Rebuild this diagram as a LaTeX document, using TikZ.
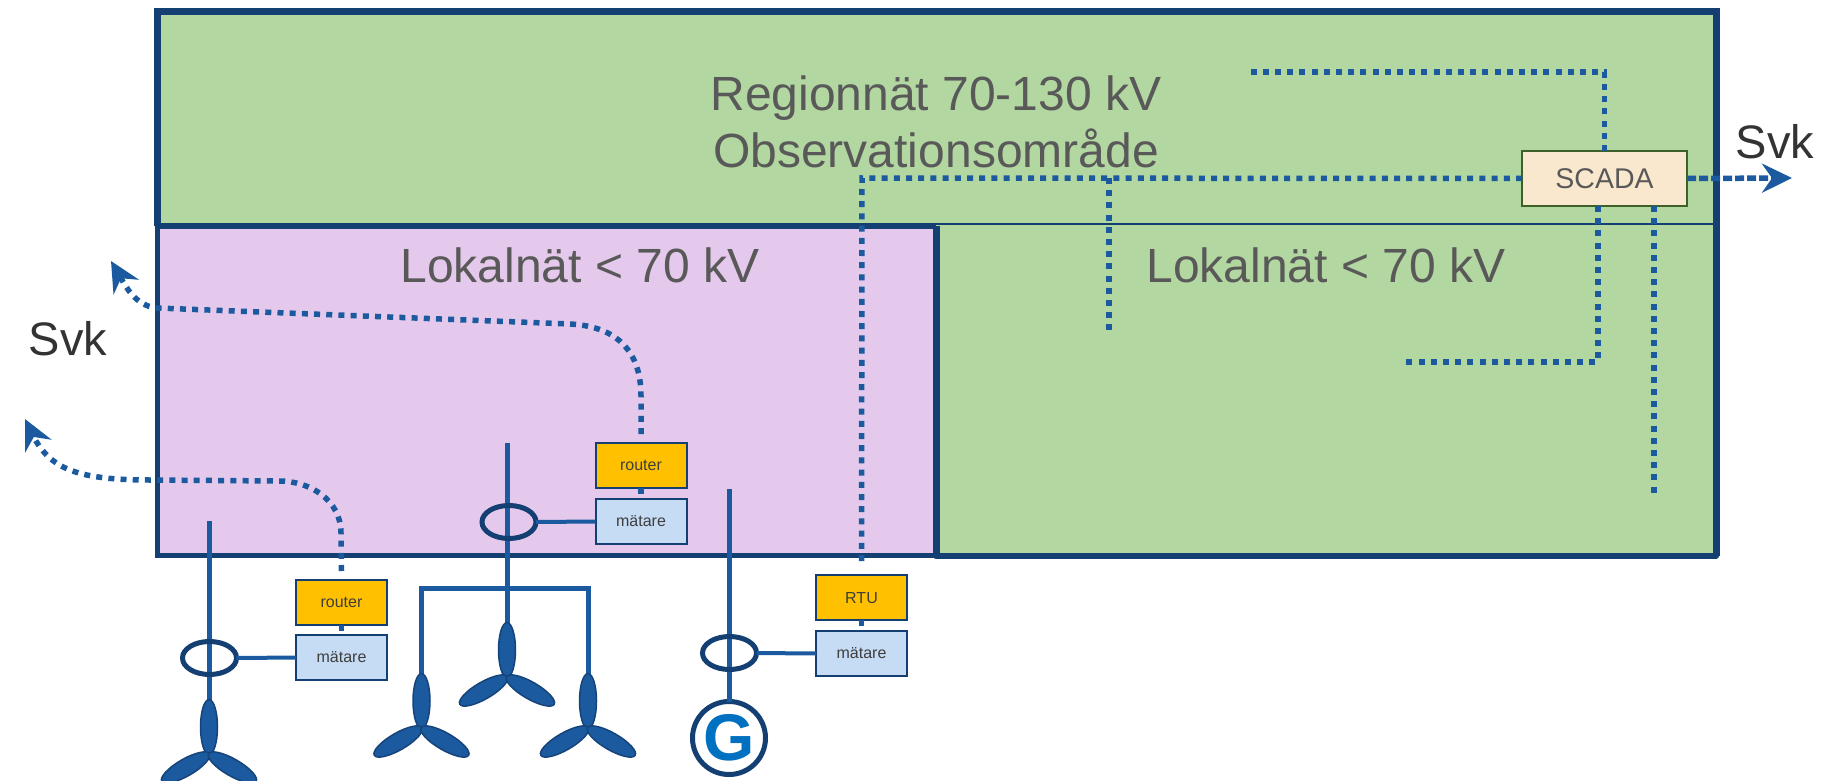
\documentclass[tikz,border=0pt]{standalone}
\usepackage{fontspec}
\setmainfont{Liberation Sans}
\usetikzlibrary{arrows.meta,shapes.geometric}
\definecolor{navy}{HTML}{143F73}
\definecolor{wire}{HTML}{1B5A9F}
\definecolor{gfill}{HTML}{B3D7A1}
\definecolor{pfill}{HTML}{E4C9EC}
\definecolor{amber}{HTML}{FFC000}
\definecolor{mfill}{HTML}{C6DBF4}
\definecolor{sfill}{HTML}{FAE8CE}
\definecolor{sline}{HTML}{3D5F28}
\definecolor{gtext}{HTML}{595959}
\definecolor{dtext}{HTML}{333333}
\definecolor{gblue}{HTML}{0070C0}
\tikzset{
  biglabel/.style={text=gtext,font=\fontsize{48}{57}\selectfont,inner sep=0pt,align=center},
  svklabel/.style={text=dtext,font=\fontsize{47}{52}\selectfont,inner sep=0pt},
  smallbox/.style={draw=navy,line width=2pt,minimum width=91pt,minimum height=45pt,inner sep=0pt,outer sep=0pt,font=\fontsize{16}{18}\selectfont,text=gtext!70!black,text depth=-1pt},
  routerbox/.style={smallbox,fill=amber},
  meterbox/.style={smallbox,fill=mfill},
  scadabox/.style={draw=sline,line width=2.5pt,fill=sfill,minimum width=165pt,minimum height=55pt,inner sep=0pt,outer sep=0pt,font=\fontsize{28.5}{30}\selectfont,text=gtext},
  comm/.style={draw=wire,line width=5.5pt,dash pattern=on 6pt off 6.2pt},
  commtip/.style={comm,-{Stealth[length=30pt,width=29pt,inset=10pt,fill=wire]}},
  power/.style={draw=wire,line width=5pt},
  ring/.style={draw=navy,line width=5pt,ellipse,minimum width=54pt,minimum height=33pt,inner sep=0pt,outer sep=0pt},
  blade/.style={draw=navy!85!wire,line width=1.5pt,fill=wire},
  turbine/.pic={
    \foreach \a in {0,120,240}
      \path[blade,rotate=\a] (0,-27) ellipse [x radius=8.5,y radius=27.5];
  }
}
\begin{document}
\begin{tikzpicture}[x=1pt,y=-1pt]
\useasboundingbox (0,0) rectangle (1825,781);
% regions
\path[fill=gfill] (157,12) rectangle (1717,555);
\path[fill=pfill] (157,226) rectangle (936,555);
\draw[navy,line width=2.5pt] (936,224) -- (1717,224);
\draw[navy,line width=6pt] (157,226) -- (936,226);
\draw[navy,line width=5pt] (157,226) -- (157,555) -- (936,555);
\draw[navy,line width=7pt] (936,226) -- (936,556);
\draw[navy,line width=6pt,line cap=round] (936,556) -- (1716,556);
\draw[navy,line width=7pt] (157,226) -- (157,12) -- (1716,12) -- (1716,556);
% labels
\node[biglabel] (reg) at (936,122) {Regionnät 70-130 kV\\Observationsområde};
\node[biglabel] (lok1) at (580,265) {Lokalnät < 70 kV};
\node[biglabel] (lok2) at (1326,265) {Lokalnät < 70 kV};
\node[svklabel] (svk1) at (68,339) {Svk};
\node[svklabel] (svk2) at (1775,142) {Svk};
% equipment
\node[scadabox] (scada) at (1604.5,178.5) {SCADA};
\node[routerbox] (r1) at (341.5,602.5) {router};
\node[meterbox] (m1) at (341.5,657.5) {mätare};
\node[routerbox] (r2) at (641,465.5) {router};
\node[meterbox] (m2) at (641,521.5) {mätare};
\node[routerbox] (rtu) at (861.5,597.5) {RTU};
\node[meterbox] (m3) at (861.5,653.5) {mätare};
% free ends
\coordinate (tipA) at (25,419);
\coordinate (tipB) at (111,261);
\coordinate (tipC) at (1792,178);
\coordinate (topEnd) at (1249,72);
\coordinate (topCorner) at (1604.5,72);
\coordinate (lokEnd) at (1406,362);
\coordinate (lokCorner) at (1598,362);
\coordinate (rightEnd) at (1654,493);
\coordinate (branchTop) at (1109,178);
\coordinate (branchEnd) at (1109,331);
\coordinate (rtuCorner) at (862,178);
% communication
\draw[comm] (scada.north) -- (topCorner) -- (topEnd);
\draw[comm] (scada.west) -- (rtuCorner) -- ([yshift=9pt]rtu.north);
\draw[comm] (branchTop) -- (branchEnd);
\draw[comm] (scada.south -| lokCorner) -- (lokCorner) -- (lokEnd);
\draw[comm] (scada.south -| rightEnd) -- (rightEnd);
\draw[commtip,dash pattern=on 9pt off 3pt] (scada.east) -- (tipC);
\draw[commtip] ([yshift=9pt]r1.north) -- (341,533) .. controls (341,500) and (310,481) .. (279,481) -- (151,480) .. controls (80,480) and (50,470) .. (tipA);
\draw[commtip] ([yshift=9pt]r2.north) -- (641,396) .. controls (641,345) and (610,326) .. (570,324) -- (157,308) .. controls (135,306) and (125,285) .. (tipB);
\draw[comm] (r1.south) -- (m1.north);
\draw[comm] (r2.south) -- (m2.north);
\draw[comm] (rtu.south) -- (m3.north);
% turbines
\coordinate (hubA) at (209,754);
\coordinate (hubB) at (507,677);
\coordinate (hubC) at (421.5,728);
\coordinate (hubD) at (588,728);
\coordinate (topA) at (209,521);
\coordinate (topB) at (507,443);
\coordinate (topG) at (729,489);
\coordinate (barL) at (421.5,588);
\coordinate (barR) at (588,588);
\node[draw=navy,line width=5pt,fill=white,circle,minimum size=73pt,inner sep=0pt,outer sep=0pt,text=gblue,font=\bfseries\fontsize{66}{66}\selectfont] (gen) at (729,738) {G};
\draw[power] (topA) -- (hubA);
\draw[power] (topB) -- (hubB);
\draw[power] (topG) -- (gen.north);
\draw[power,line cap=rect] (hubC) -- (barL) -- (barR) -- (hubD);
\pic at (hubA) {turbine};
\pic at (hubB) {turbine};
\pic at (hubC) {turbine};
\pic at (hubD) {turbine};
% current transformers
\node[ring] (c1) at (209.5,658) {};
\node[ring] (c2) at (509,522) {};
\node[ring] (c3) at (729.5,653) {};
\draw[power,line width=4pt] (c1.east) -- (m1.west);
\draw[power,line width=4pt] (c2.east) -- (m2.west);
\draw[power,line width=4pt] (c3.east) -- (m3.west);
\end{tikzpicture}
\end{document}
